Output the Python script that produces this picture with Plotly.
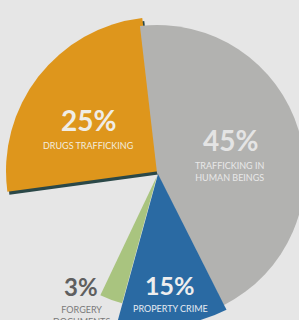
import plotly.graph_objects as go

# ---- data ----
categories = ["Drugs trafficking", "Trafficking in human beings", "Property crime",
              "Forgery documents", "(not shown)"]
# angular share of each drawn wedge, as measured on the picture
wedge_share = [25.3, 44.4, 11.7, 2.8, 15.8]
pct_labels = ["25%", "45%", "15%", "3%"]
sub_labels = ["DRUGS TRAFFICKING", "TRAFFICKING IN<br>HUMAN BEINGS", "PROPERTY CRIME",
              "FORGERY<br>DOCUMENTS"]

# ---- styling / layout constants ----
W, H = 330, 350              # figure is larger than the 299x320 window (chart is cropped)
BG = "#e6e6e6"
colors = ["#de961c", "#b2b2b0", "#2a6aa3", "#a9c47f"]
centers = [(160, 171), (157, 173), (158, 174), (157, 176)]  # per-wedge centre, px
radii = [154, 148, 152, 132]                                # per-wedge radius, px
ROT = -97.7

def dom(cx, cy, r):
    return dict(x=[(cx - r) / W, (cx + r) / W], y=[1 - (cy + r) / H, 1 - (cy - r) / H])

def wedge_trace(idx, color, cx, cy, r):
    cols = ["rgba(0,0,0,0)"] * len(wedge_share)
    cols[idx] = color
    return go.Pie(labels=categories, values=wedge_share, sort=False, direction="clockwise",
                  rotation=ROT, marker=dict(colors=cols, line=dict(width=0)),
                  textinfo="none", hoverinfo="skip", showlegend=False,
                  domain=dom(cx, cy, r))

fig = go.Figure()
# dark edge under the orange wedge
fig.add_trace(wedge_trace(0, "#2b4848", centers[0][0] + 2, centers[0][1] + 3, radii[0]))
for i in range(4):
    fig.add_trace(wedge_trace(i, colors[i], centers[i][0], centers[i][1], radii[i]))

# ---- labels ----
FONT = "Lato"
# (x centre, bottom of the percent text, top of the caption) in px
lab_pos = [(88, 138, 138.5), (230, 158, 159), (170, 301.3, 302), (81, 302, 302.5)]
pct_size = [28, 28, 25, 24]
pct_col = ["#f0ede6", "#e4e4e4", "#eeeeee", "#5f5f5f"]
sub_col = ["#f3ecdf", "#e8e8e8", "#e6ebf2", "#7a7a7a"]
for i in range(4):
    x, yb, yt = lab_pos[i]
    fig.add_annotation(x=x / W, y=1 - yb / H, xref="paper", yref="paper", text=pct_labels[i],
                       showarrow=False, xanchor="center", yanchor="bottom", borderpad=0,
                       font=dict(family=FONT, size=pct_size[i], color=pct_col[i], weight="bold"))
    fig.add_annotation(x=x / W, y=1 - yt / H, xref="paper", yref="paper", text=sub_labels[i],
                       showarrow=False, xanchor="center", yanchor="top", borderpad=0,
                       font=dict(family=FONT, size=9, color=sub_col[i]))

fig.update_layout(width=W, height=H, margin=dict(l=0, r=0, t=0, b=0),
                  paper_bgcolor=BG, plot_bgcolor=BG)

post = ("document.body.style.margin='0';document.body.style.overflow='hidden';"
        "document.documentElement.style.overflow='hidden';"
        "document.body.style.background='" + BG + "';")
fig.write_html("out.html", post_script=post, config={"displayModeBar": False})
